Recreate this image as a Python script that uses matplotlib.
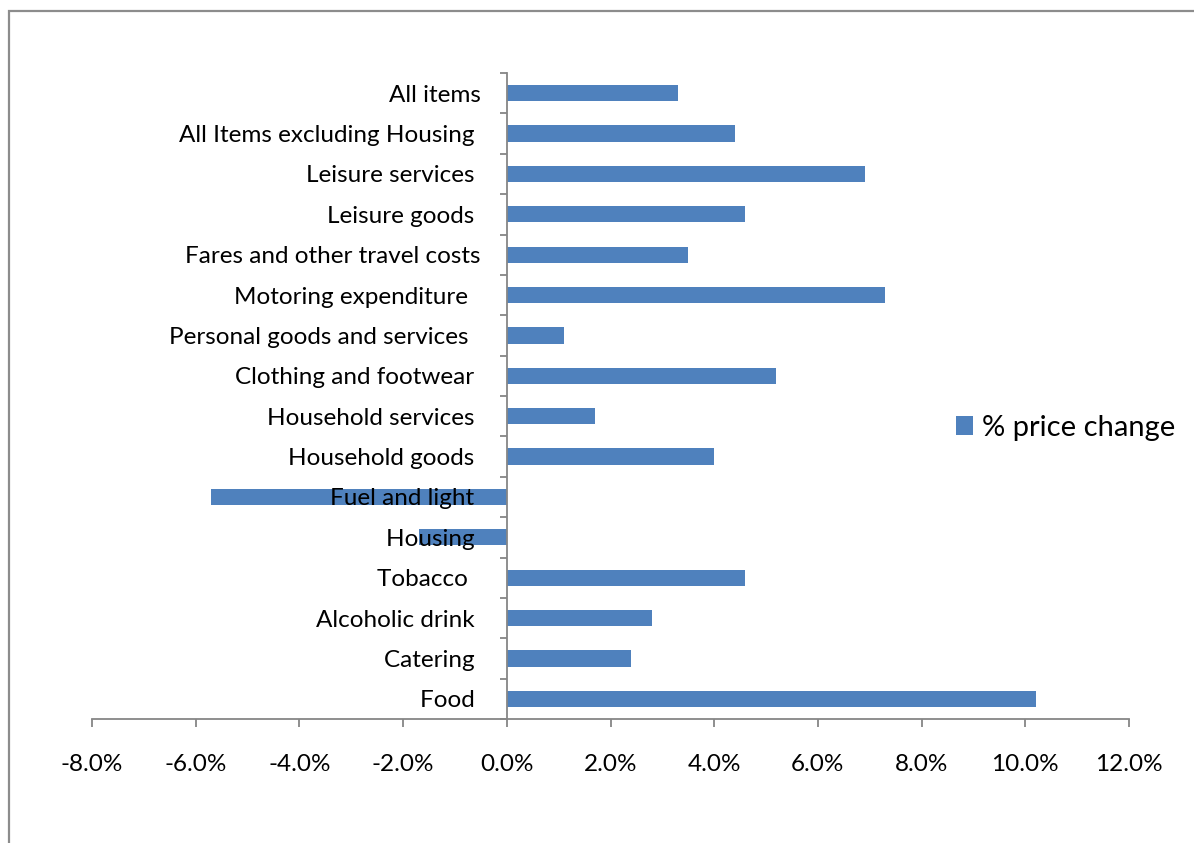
import matplotlib
matplotlib.use("Agg")
import matplotlib.pyplot as plt
from matplotlib.patches import Rectangle
from matplotlib.ticker import FixedLocator, PercentFormatter

# data (bottom to top)
categories = [
    "Food ",
    "Catering ",
    "Alcoholic drink ",
    "Tobacco  ",
    "Housing ",
    "Fuel and light ",
    "Household goods ",
    "Household services ",
    "Clothing and footwear ",
    "Personal goods and services  ",
    "Motoring expenditure  ",
    "Fares and other travel costs",
    "Leisure goods ",
    "Leisure services ",
    "All Items excluding Housing ",
    "All items",
]
price_change = [10.2, 2.4, 2.8, 4.6, -1.7, -5.7, 4.0, 1.7, 5.2, 1.1, 7.3, 3.5, 4.6, 6.9, 4.4, 3.3]
x_ticks = [-8, -6, -4, -2, 0, 2, 4, 6, 8, 10, 12]

BAR_COLOR = "#4F81BD"
AXIS_COLOR = "#868686"

plt.rcParams["font.family"] = ["Lato", "DejaVu Sans"]
plt.rcParams["axes.unicode_minus"] = False

W, H = 1194, 843
fig = plt.figure(figsize=(W / 100, H / 100), dpi=100)
ax = fig.add_axes([92 / W, 1 - 719 / H, (1129 - 92) / W, (719 - 73) / H])

pos = list(range(len(categories)))
bars = ax.barh(pos, price_change, height=0.4, color=BAR_COLOR, label="% price change", zorder=1)

ax.set_xlim(-8, 12)
ax.set_ylim(-0.5, len(categories) - 0.5)

# only the bottom axis and the zero line are drawn
for s in ["top", "right"]:
    ax.spines[s].set_visible(False)
ax.spines["bottom"].set_color(AXIS_COLOR)
ax.spines["bottom"].set_linewidth(1.3)
ax.spines["left"].set_color(AXIS_COLOR)
ax.spines["left"].set_linewidth(1.3)
ax.spines["left"].set_position(("data", 0))

ax.set_xticks(x_ticks)
ax.xaxis.set_major_formatter(PercentFormatter(decimals=1))
ax.tick_params(axis="x", direction="out", length=6, width=1.3, color=AXIS_COLOR,
               labelsize=17.5, pad=19, labelcolor="black")

ax.set_yticks(pos)
ax.set_yticklabels(categories)
ax.yaxis.set_minor_locator(FixedLocator([p + 0.5 for p in range(-1, len(categories))]))
ax.tick_params(axis="y", which="major", length=0, labelsize=17.5, pad=26 * 0.72)
ax.tick_params(axis="y", which="minor", direction="out", length=5, width=1.3, color=AXIS_COLOR)
ax.yaxis.set_zorder(3)

fig.legend(handles=[bars], loc="center left", bbox_to_anchor=(956 / W, 1 - 428 / H),
           frameon=False, fontsize=21, handlelength=0.6, handleheight=0.6,
           handletextpad=0.3, borderpad=0, borderaxespad=0)

# chart area border (only top and left edge visible in the crop)
fig.patches.append(Rectangle((9 / W, -0.1), 1.2, 1 - 11 / H + 0.1, transform=fig.transFigure,
                             fill=False, edgecolor="#8C8C8C", lw=1.6))

fig.savefig("out.png", dpi=100)
